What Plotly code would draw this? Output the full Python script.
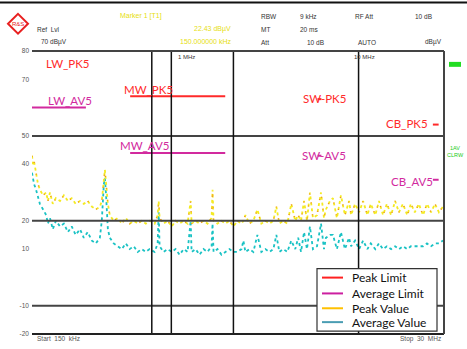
import plotly.graph_objects as go

# ---------------- data ----------------
freq_mhz = [0.150, 0.152, 0.154, 0.158, 0.162, 0.166, 0.173, 0.180, 0.184, 0.189,
            0.196, 0.204, 0.215, 0.226, 0.238, 0.250, 0.263, 0.278, 0.292, 0.307,
            0.324, 0.341, 0.359, 0.368, 0.378, 0.383, 0.388, 0.398, 0.408, 0.429,
            0.452, 0.476, 0.501, 0.527, 0.555, 0.584, 0.615, 0.648, 0.681, 0.726,
            0.755, 0.765, 0.774, 0.815, 0.858, 0.904, 0.951, 1.001, 1.054, 1.109,
            1.154, 1.168, 1.229, 1.294, 1.362, 1.434, 1.510, 1.529, 1.549, 1.630,
            1.716, 1.806, 1.901, 2.001, 2.107, 2.218, 2.274, 2.333, 2.456, 2.585,
            2.722, 2.865, 3.016, 3.175, 3.343, 3.474, 3.609, 3.80, 4.00, 4.21,
            4.43, 4.60, 4.77, 4.96, 5.15, 5.35, 5.56, 5.86, 6.17, 6.41,
            6.57, 6.92, 7.19, 7.57, 7.97, 8.39, 8.85, 9.08, 9.56, 10.07,
            10.6, 11.2, 11.7, 12.4, 13.0, 13.7, 14.4, 15.2, 16.0, 16.8,
            17.7, 18.7, 19.6, 20.6, 21.7, 22.9, 24.1, 25.4, 26.7, 28.1,
            29.6]

peak_dbuv = [43, 40, 41, 36, 33, 31, 29, 30, 27, 30,
             26, 28, 27, 29, 27, 28, 26, 27, 26, 27,
             25, 24, 25, 27, 36, 38, 34, 26, 22, 20,
             21, 19, 21, 19, 20, 19, 20, 19, 20, 19,
             22, 27, 21, 19, 20, 18, 20, 19, 20, 19,
             27, 19, 20, 19, 20, 19, 21, 31, 20, 19,
             20, 19, 20, 18, 20, 19, 20, 22, 19, 20,
             24, 19, 20, 19, 20, 25, 19, 20, 19, 26,
             20, 22, 20, 27, 20, 30, 21, 22, 30, 21,
             24, 27, 28, 21, 29, 22, 27, 22, 26, 23,
             27, 22, 26, 22, 27, 22, 26, 22, 27, 23,
             26, 22, 26, 23, 26, 22, 26, 23, 26, 23,
             25]

avg_dbuv = [37, 35, 33, 31, 28, 26, 24, 22, 19, 21,
            17, 20, 18, 19, 16, 18, 15, 17, 14, 16,
            13, 12, 14, 20, 33, 35, 30, 17, 14, 12,
            11, 10, 12, 10, 11, 9, 10, 9, 10, 9,
            12, 23, 11, 9, 10, 9, 10, 8, 10, 9,
            20, 9, 10, 8, 10, 9, 11, 19, 9, 10,
            8, 9, 10, 9, 9, 10, 13, 9, 10, 9,
            15, 9, 10, 9, 10, 15, 9, 10, 9, 13,
            10, 14, 9, 16, 10, 18, 10, 11, 19, 10,
            14, 15, 15, 10, 16, 10, 14, 11, 13, 10,
            13, 10, 12, 10, 12, 10, 11, 10, 11, 10,
            11, 10, 11, 11, 11, 11, 12, 11, 12, 12,
            13]

band_names = ["LW", "MW", "SW", "CB"]
band_start_mhz = [0.15, 0.53, 5.9, 26.0]
band_stop_mhz = [0.30, 1.8, 6.2, 28.0]
peak_limit_dbuv = [80, 64, 63, 54]
avg_limit_dbuv = [60, 44, 43, 34.5]

y_tick_vals = [80, 70, 50, 40, 20, 10, -10, -20]
h_grid_vals = [50, 20, -10]
v_marker_mhz = [0.70, 0.90, 2.0, 10.0]

legend_names = ["Peak Limit", "Average Limit", "Peak Value", "Average Value"]
legend_colors = ["#FF2020", "#CC1FA0", "#FFC000", "#4A9DB3"]

# ---------------- figure ----------------
W, H = 467, 349
L, R, T, B = 32, 23, 51, 12
PW, PH = W - L - R, H - T - B


def px(x):
    return (x - L) / PW


def py(y):
    return (H - B - y) / PH


PEAK_RED = "#FF2A2A"
AVG_MAG = "#D22A9E"

fig = go.Figure()

# limit lines
lx, lpk, lav = [], [], []
for s, e, pk, av in zip(band_start_mhz, band_stop_mhz, peak_limit_dbuv, avg_limit_dbuv):
    lx += [s, e, None]
    lpk += [pk, pk, None]
    lav += [av, av, None]
fig.add_trace(go.Scatter(x=lx, y=lpk, mode="lines", line=dict(color=PEAK_RED, width=2),
                         showlegend=False, hoverinfo="skip"))
fig.add_trace(go.Scatter(x=lx, y=lav, mode="lines", line=dict(color=AVG_MAG, width=2),
                         showlegend=False, hoverinfo="skip"))

# measured traces
fig.add_trace(go.Scatter(x=freq_mhz, y=avg_dbuv, mode="lines",
                         line=dict(color="#19C2C4", width=1.8, dash="dot"),
                         showlegend=False))
fig.add_trace(go.Scatter(x=freq_mhz, y=peak_dbuv, mode="lines",
                         line=dict(color="#F4EA20", width=1.8, dash="dot"),
                         showlegend=False))
fig.add_trace(go.Scatter(x=freq_mhz, y=peak_dbuv, mode="lines",
                         line=dict(color="rgba(235,60,40,0.6)", width=1.2, dash="1px,11px"),
                         showlegend=False))

shapes = []
# horizontal grid lines
for v in h_grid_vals:
    shapes.append(dict(type="line", xref="paper", yref="y", x0=0, x1=1, y0=v, y1=v,
                       line=dict(color="#444444", width=2)))
# vertical marker lines
for f in v_marker_mhz:
    shapes.append(dict(type="line", xref="x", yref="paper", x0=f, x1=f, y0=0, y1=1,
                       line=dict(color="#111111", width=1.5)))
# frame: top, bottom, right
shapes.append(dict(type="line", xref="paper", yref="paper", x0=0, x1=1, y0=1, y1=1,
                   line=dict(color="#444444", width=2)))
shapes.append(dict(type="line", xref="paper", yref="paper", x0=0, x1=1, y0=0, y1=0,
                   line=dict(color="#222222", width=2)))
shapes.append(dict(type="line", xref="paper", yref="paper", x0=1, x1=1, y0=0, y1=1,
                   line=dict(color="#444444", width=2)))
# top black border of screenshot
shapes.append(dict(type="line", xref="paper", yref="paper", x0=px(0), x1=px(W), y0=py(2), y1=py(2),
                   line=dict(color="#111111", width=2)))
# R&S logo diamond
cx, cy, r = 18, 23.5, 10
shapes.append(dict(type="path", xref="paper", yref="paper",
                   path=f"M {px(cx)} {py(cy - r)} L {px(cx + r)} {py(cy)} L {px(cx)} {py(cy + r)} L {px(cx - r)} {py(cy)} Z",
                   line=dict(color="#E82020", width=2), fillcolor="rgba(0,0,0,0)"))
# green status box
shapes.append(dict(type="rect", xref="paper", yref="paper", x0=px(449), x1=px(461),
                   y0=py(67), y1=py(62), line=dict(width=0), fillcolor="#22DD22"))

# manual legend
shapes.append(dict(type="rect", xref="paper", yref="paper", x0=px(317), x1=px(437),
                   y0=py(334), y1=py(271), line=dict(color="#333333", width=1.2),
                   fillcolor="white"))
leg_y = [280, 296, 311, 325]
annotations = []
for name, col, yy in zip(legend_names, legend_colors, leg_y):
    shapes.append(dict(type="line", xref="paper", yref="paper", x0=px(322), x1=px(343),
                       y0=py(yy), y1=py(yy), line=dict(color=col, width=2)))
    annotations.append(dict(text=name, xref="paper", yref="paper", x=px(350), y=py(yy),
                            xanchor="left", yanchor="middle", showarrow=False,
                            font=dict(family="Lato", size=12, color="#111111")))


def ann(text, x, y, size=7, color="#555555", anchor="left", family="Liberation Sans"):
    annotations.append(dict(text=text, xref="paper", yref="paper", x=px(x), y=py(y),
                            xanchor=anchor, yanchor="middle", showarrow=False,
                            font=dict(family=family, size=size, color=color)))


# band labels
ann("LW_PK5", 68, 64, 11.5, PEAK_RED, "center", "Lato")
ann("LW_AV5", 70, 101, 11.5, AVG_MAG, "center", "Lato")
ann("MW_PK5", 148, 90, 11.5, PEAK_RED, "center", "Lato")
ann("MW_AV5", 144, 147, 11.5, AVG_MAG, "center", "Lato")
ann("SW-PK5", 324, 99, 11.5, PEAK_RED, "center", "Lato")
ann("SW-AV5", 324, 157, 11.5, AVG_MAG, "center", "Lato")
ann("CB_PK5", 407, 124, 11.5, PEAK_RED, "center", "Lato")
ann("CB_AV5", 412, 183, 11.5, AVG_MAG, "center", "Lato")

# instrument header texts (tiny)
YEL = "#E6DE10"
ann("R&S", 18, 23.5, 6, "#E82020", "center")
ann("Marker 1 [T1]", 118, 16, 7, YEL)
ann("22.43 dBµV", 233, 29, 7, YEL, "right")
ann("150.000000 kHz", 233, 41, 7, YEL, "right")
ann("Ref  Lvl", 35, 29, 6.5, "#333333")
ann("70 dBµV", 39, 42, 6.5, "#333333")
ann("RBW", 259, 16, 6.5, "#333333")
ann("9 kHz", 298, 16, 6.5, "#333333")
ann("RF Att", 353, 16, 6.5, "#333333")
ann("10 dB", 413, 16, 6.5, "#333333")
ann("MT", 259, 29, 6.5, "#333333")
ann("20 ms", 298, 29, 6.5, "#333333")
ann("Att", 259, 42, 6.5, "#333333")
ann("10 dB", 305, 42, 6.5, "#333333")
ann("AUTO", 356, 42, 6.5, "#333333")
ann("dBµV", 423, 42, 6.5, "#333333")
ann("1 MHz", 186, 57, 6, "#333333", "center")
ann("10 MHz", 364, 57, 6, "#333333", "center")
ann("1AV", 455, 149, 5.5, "#22CC22", "center")
ann("CLRW", 455, 156, 5.5, "#22CC22", "center")
ann("Start  150  kHz", 35, 342, 6.5, "#555555")
ann("Stop  30  MHz", 443, 342, 6.5, "#555555", "right")

fig.update_layout(
    width=W, height=H,
    margin=dict(l=L, r=R, t=T, b=B),
    paper_bgcolor="white", plot_bgcolor="white",
    showlegend=False,
    shapes=shapes,
    annotations=annotations,
    xaxis=dict(type="log", range=[-0.823909, 1.477121], showgrid=False, zeroline=False,
               showline=False, showticklabels=False, ticks=""),
    yaxis=dict(range=[-20, 80], showgrid=False, zeroline=False, showline=False,
               tickvals=y_tick_vals, ticktext=[str(v) for v in y_tick_vals],
               tickfont=dict(family="Liberation Sans", size=6.5, color="#555555"),
               ticks="", ticklabelstandoff=2),
)

fig.write_html("out.html", config={"displayModeBar": False},
               post_script="document.body.style.margin='0';document.body.style.padding='0';")
